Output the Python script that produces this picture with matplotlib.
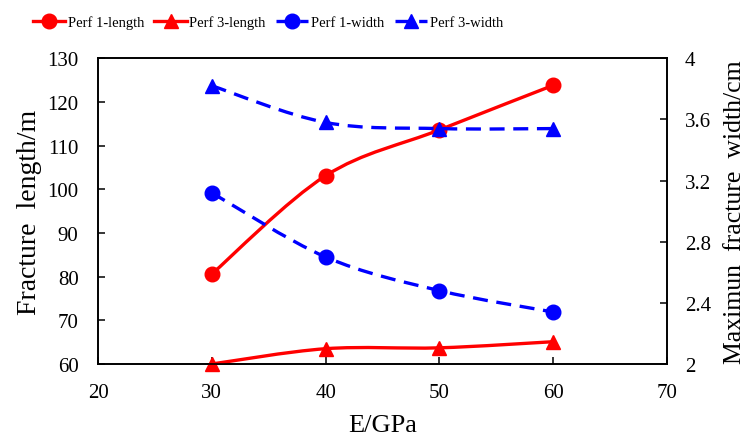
import matplotlib
matplotlib.use("Agg")
import matplotlib.pyplot as plt
from matplotlib.path import Path
from matplotlib.patches import PathPatch
from matplotlib.lines import Line2D
import numpy as np

plt.rcParams['font.family'] = ['Liberation Serif', 'DejaVu Serif']

E = [30, 40, 50, 60]
perf1_length = [80.6, 103.1, 113.6, 123.8]
perf3_length = [60.0, 63.5, 63.7, 65.1]
perf1_width = [3.12, 2.70, 2.48, 2.34]
perf3_width = [3.82, 3.58, 3.54, 3.54]

x_ticks = [20, 30, 40, 50, 60, 70]
y1_ticks = [60, 70, 80, 90, 100, 110, 120, 130]
y2_ticks = [2, 2.4, 2.8, 3.2, 3.6, 4]
y2_labels = ['2', '2.4', '2.8', '3.2', '3.6', '4']

RED = '#ff0000'
BLUE = '#0000ff'
MS = 10.5
LW = 2.4


def smooth_path(xs, ys):
    pts = np.column_stack([xs, ys]).astype(float)
    n = len(pts)
    verts = [pts[0]]
    codes = [Path.MOVETO]
    for i in range(n - 1):
        p0 = pts[i - 1] if i > 0 else pts[i]
        p1 = pts[i]
        p2 = pts[i + 1]
        p3 = pts[i + 2] if i + 2 < n else pts[i + 1]
        c1 = p1 + (p2 - p0) / 6.0
        c2 = p2 - (p3 - p1) / 6.0
        verts += [c1, c2, p2]
        codes += [Path.CURVE4] * 3
    return Path(verts, codes)


def draw(ax, xs, ys, color, marker, ls):
    patch = PathPatch(smooth_path(xs, ys), facecolor='none', edgecolor=color,
                      lw=LW, linestyle=ls, capstyle='butt', zorder=3)
    ax.add_patch(patch)
    ax.plot(xs, ys, linestyle='none', marker=marker, color=color,
            markersize=MS, zorder=4, clip_on=False)


fig = plt.figure(figsize=(7.46, 4.39), dpi=100)
ax = fig.add_axes([0.1314, 0.1686, 0.7626, 0.6964])
ax2 = ax.twinx()

dash = (0, (4.5, 2.6))
draw(ax, E, perf1_length, RED, 'o', '-')
draw(ax, E, perf3_length, RED, '^', '-')
draw(ax2, E, perf1_width, BLUE, 'o', dash)
draw(ax2, E, perf3_width, BLUE, '^', dash)

ax.set_xlim(20, 70)
ax.set_ylim(60, 130)
ax2.set_ylim(2, 4)
ax.set_xticks(x_ticks)
ax.set_yticks(y1_ticks)
ax2.set_yticks(y2_ticks)
ax2.set_yticklabels(y2_labels)

for a in (ax, ax2):
    for s in a.spines.values():
        s.set_linewidth(1.2)
        s.set_color('black')
ax.tick_params(axis='y', direction='in', length=5, width=1.1, labelsize=15, pad=14)
ax.tick_params(axis='x', direction='in', length=5, width=1.1, labelsize=15, pad=14)
ax2.tick_params(axis='y', direction='in', length=5, width=1.1, labelsize=15, pad=13)

ax.set_xlabel('E/GPa', fontsize=19, labelpad=8)
ax.set_ylabel('Fracture  length/m', fontsize=20, labelpad=4)
ax2.set_ylabel('Maximun  fracture  width/cm', fontsize=18.5, labelpad=9)

handles = [
    Line2D([], [], color=RED, lw=LW, marker='o', markersize=MS),
    Line2D([], [], color=RED, lw=LW, marker='^', markersize=MS),
    Line2D([], [], color=BLUE, lw=LW, marker='o', markersize=MS, linestyle=dash),
    Line2D([], [], color=BLUE, lw=LW, marker='^', markersize=MS, linestyle=dash),
]
labels = ['Perf 1-length', 'Perf 3-length', 'Perf 1-width', 'Perf 3-width']
fig.legend(handles, labels, loc='center', bbox_to_anchor=(0.359, 0.948), ncol=4,
           frameon=False, fontsize=10.5, handlelength=2.2, handletextpad=0.2,
           columnspacing=0.7)

fig.savefig('out.png', dpi=100)
